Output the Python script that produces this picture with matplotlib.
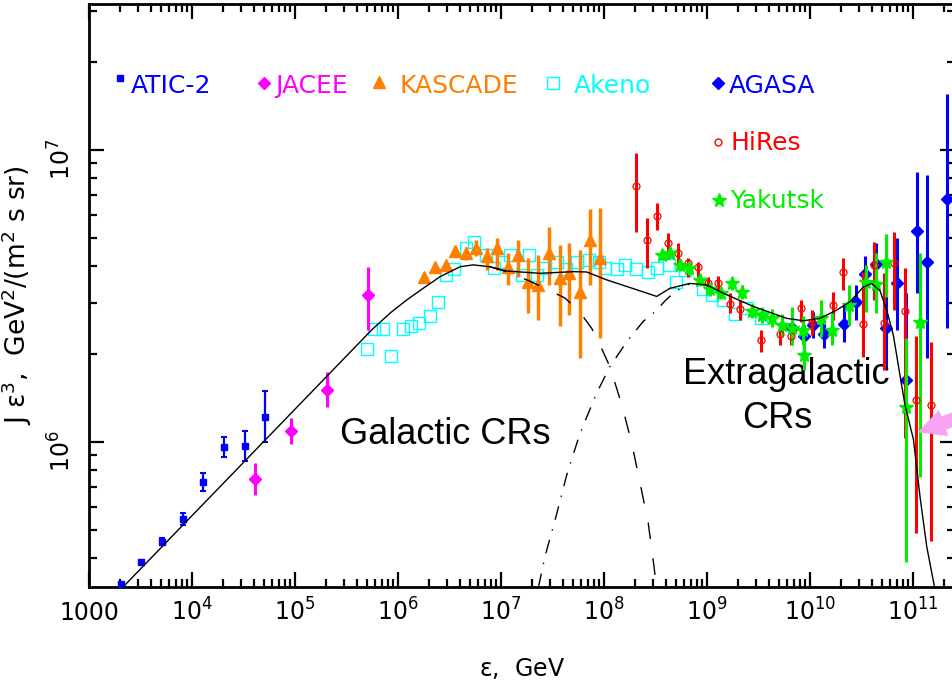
import numpy as np
import matplotlib
matplotlib.use("Agg")
import matplotlib.pyplot as plt
from matplotlib.ticker import FixedLocator, LogLocator, NullFormatter

# ---- data (E in GeV, J*E^3 in GeV^2/(m^2 s sr)) ----
atic_E = [2050, 3200, 5150, 8130, 1.29e4, 2.04e4, 3.24e4, 5.1e4]
atic_J = [3.27e5, 3.89e5, 4.55e5, 5.43e5, 7.3e5, 9.6e5, 9.7e5, 1.22e6]
atic_lo = [3.27e5, 3.83e5, 4.43e5, 5.18e5, 6.80e5, 8.87e5, 8.62e5, 1.00e6]
atic_hi = [3.27e5, 3.95e5, 4.67e5, 5.69e5, 7.84e5, 1.04e6, 1.09e6, 1.49e6]

jacee_E = [4.12e4, 9.2e4, 2.03e5, 5.15e5]
jacee_J = [7.45e5, 1.09e6, 1.51e6, 3.18e6]
jacee_lo = [6.57e5, 9.84e5, 1.32e6, 2.42e6]
jacee_hi = [8.45e5, 1.21e6, 1.73e6, 3.97e6]

kascade_E = [1.8e6, 2.3e6, 2.9e6, 3.6e6, 4.6e6, 5.7e6, 7.3e6, 9.2e6, 1.16e7,
             1.47e7, 1.83e7, 2.3e7, 2.9e7, 3.7e7, 4.6e7, 5.8e7, 7.3e7, 9.2e7]
kascade_J = [3.68e6, 3.98e6, 4.04e6, 4.52e6, 4.43e6, 4.61e6, 4.32e6, 4.61e6, 3.98e6,
             4.36e6, 3.54e6, 3.45e6, 4.43e6, 3.64e6, 3.78e6, 3.25e6, 4.92e6, 4.26e6]
kascade_lo = [3.55e6, 3.85e6, 3.9e6, 4.35e6, 4.20e6, 4.32e6, 3.88e6, 3.88e6, 3.45e6,
              3.67e6, 2.77e6, 2.62e6, 3.45e6, 2.49e6, 2.72e6, 1.94e6, 3.45e6, 2.27e6]
kascade_hi = [3.8e6, 4.1e6, 4.18e6, 4.7e6, 4.66e6, 4.92e6, 4.61e6, 5.0e6, 4.44e6,
              4.92e6, 4.27e6, 4.37e6, 5.45e6, 4.73e6, 4.81e6, 4.55e6, 6.28e6, 6.33e6]

akeno_E = [4.96e5, 5.89e5, 7.2e5, 8.49e5, 1.11e6, 1.33e6, 1.59e6, 2.06e6, 2.46e6, 2.94e6,
           3.5e6, 4.57e6, 5.47e6, 7.2e6, 8.55e6, 1.02e7, 1.21e7, 1.59e7, 1.88e7, 2.26e7,
           2.70e7, 3.52e7, 4.28e7, 5.51e7, 7.15e7, 8.85e7, 1.02e8, 1.33e8, 1.59e8, 2.06e8,
           2.69e8, 3.25e8, 4.25e8, 5.0e8, 6.11e8, 9.2e8, 1.12e9, 1.42e9, 1.88e9, 2.43e9,
           3.34e9]
akeno_J = [2.08e6, 2.43e6, 2.43e6, 1.97e6, 2.43e6, 2.49e6, 2.56e6, 2.70e6, 3.01e6, 3.73e6,
           3.90e6, 4.60e6, 4.85e6, 4.37e6, 3.93e6, 4.14e6, 4.37e6, 3.73e6, 4.37e6, 3.73e6,
           3.93e6, 4.14e6, 3.91e6, 4.14e6, 4.21e6, 4.14e6, 3.93e6, 3.91e6, 4.04e6, 3.91e6,
           3.82e6, 3.93e6, 4.04e6, 3.54e6, 3.88e6, 3.34e6, 3.18e6, 3.07e6, 2.74e6, 2.87e6,
           2.66e6]

agasa_E = [6.64e9, 8.75e9, 1.08e10, 1.38e10, 2.14e10, 2.80e10, 3.42e10, 4.33e10, 5.45e10,
           6.92e10, 8.61e10, 1.09e11, 1.38e11, 2.13e11]
agasa_J = [2.45e6, 2.31e6, 2.52e6, 2.34e6, 2.54e6, 3.02e6, 3.76e6, 4.07e6, 2.45e6,
           3.49e6, 1.63e6, 5.28e6, 4.14e6, 6.78e6]
agasa_lo = [2.24e6, 2.10e6, 2.27e6, 2.10e6, 2.20e6, 2.62e6, 3.24e6, 3.42e6, 1.76e6,
            2.42e6, 7.61e5, 3.23e6, 1.94e6, 2.45e6]
agasa_hi = [2.66e6, 2.52e6, 2.79e6, 2.62e6, 2.94e6, 3.45e6, 4.34e6, 4.81e6, 3.24e6,
            5.0e6, 3.24e6, 8.43e6, 8.21e6, 1.56e7]

hires_E = [2.05e8, 2.60e8, 3.29e8, 4.15e8, 5.20e8, 6.59e8, 8.27e8, 1.03e9, 1.29e9, 1.66e9,
           2.08e9, 3.31e9, 5.15e9, 6.51e9, 8.15e9, 1.04e10, 1.66e10, 2.10e10, 3.29e10,
           4.21e10, 5.21e10, 6.56e10, 8.36e10, 1.06e11, 1.49e11]
hires_J = [7.53e6, 4.92e6, 5.94e6, 4.79e6, 4.44e6, 4.10e6, 3.96e6, 3.49e6, 3.49e6, 2.97e6,
           2.85e6, 2.24e6, 2.34e6, 2.31e6, 2.87e6, 2.58e6, 2.94e6, 3.83e6, 2.53e6,
           4.04e6, 2.55e6, 4.09e6, 2.80e6, 1.39e6, 1.34e6]
hires_lo = [5.25e6, 3.94e6, 5.32e6, 4.22e6, 3.98e6, 3.67e6, 3.68e6, 3.23e6, 3.24e6, 2.76e6,
            2.62e6, 2.04e6, 2.15e6, 2.15e6, 2.58e6, 2.32e6, 2.62e6, 3.32e6, 1.96e6,
            3.06e6, 1.76e6, 2.83e6, 1.03e6, 4.88e5, 4.56e5]
hires_hi = [9.80e6, 5.85e6, 6.58e6, 5.21e6, 4.81e6, 4.27e6, 4.14e6, 3.68e6, 3.70e6, 3.23e6,
            3.06e6, 2.42e6, 2.55e6, 2.45e6, 3.06e6, 2.83e6, 3.26e6, 4.27e6, 3.83e6,
            4.85e6, 3.79e6, 5.25e6, 3.94e6, 2.30e6, 2.20e6]

yak_E = [3.63e8, 4.42e8, 5.43e8, 6.73e8, 8.55e8, 1.07e9, 1.37e9, 1.74e9, 2.20e9, 2.72e9,
         3.44e9, 4.25e9, 5.37e9, 6.71e9, 8.61e9, 8.75e9, 1.27e10, 1.63e10, 2.41e10,
         3.46e10, 4.36e10, 5.51e10, 8.55e10, 1.18e11]
yak_J = [4.37e6, 4.44e6, 4.04e6, 3.93e6, 3.59e6, 3.33e6, 3.24e6, 3.50e6, 3.26e6, 2.81e6,
         2.73e6, 2.66e6, 2.52e6, 2.46e6, 2.42e6, 1.99e6, 2.65e6, 2.42e6, 2.94e6,
         3.53e6, 3.48e6, 4.14e6, 1.32e6, 2.58e6]
yak_lo = [4.20e6, 4.27e6, 3.85e6, 3.73e6, 3.42e6, 3.16e6, 3.09e6, 3.32e6, 3.09e6, 2.66e6,
          2.56e6, 2.48e6, 2.31e6, 2.15e6, 2.15e6, 1.76e6, 2.29e6, 2.15e6, 2.52e6,
          2.79e6, 2.77e6, 3.14e6, 3.89e5, 7.61e5]
yak_hi = [4.55e6, 4.61e6, 4.24e6, 4.14e6, 3.76e6, 3.50e6, 3.39e6, 3.67e6, 3.45e6, 2.96e6,
          2.90e6, 2.86e6, 2.74e6, 2.90e6, 2.70e6, 2.24e6, 3.06e6, 2.77e6, 3.45e6,
          4.04e6, 4.44e6, 5.17e6, 2.27e6, 4.44e6]

# model curves
total_E = [2.15e3, 5.56e5, 8.36e5, 1.21e6, 1.76e6, 2.56e6, 4.00e6, 5.38e6, 7.82e6, 1.13e7,
           2.39e7, 5.00e7, 6.79e7, 1.06e8, 2.08e8, 3.25e8, 4.38e8, 6.84e8, 9.93e8, 1.44e9,
           2.82e9, 5.94e9, 8.61e9, 1.25e10, 1.82e10, 2.44e10, 3.29e10, 3.97e10, 4.79e10,
           5.56e10, 6.45e10, 7.48e10, 8.36e10, 1.01e11, 1.17e11, 1.36e11, 1.64e11]
total_J = [3.19e5, 2.42e6, 2.76e6, 3.06e6, 3.36e6, 3.68e6, 3.98e6, 4.04e6, 3.98e6, 3.85e6,
           3.78e6, 3.83e6, 3.82e6, 3.59e6, 3.32e6, 3.15e6, 3.36e6, 3.49e6, 3.45e6, 3.23e6,
           2.91e6, 2.65e6, 2.60e6, 2.65e6, 2.83e6, 3.02e6, 3.39e6, 3.49e6, 3.29e6,
           2.83e6, 2.32e6, 1.69e6, 1.34e6, 1.02e6, 6.50e5, 4.38e5, 3.11e5]

gal_E = [7.82e6, 1.13e7, 1.78e7, 2.67e7, 4.18e7, 5.71e7, 7.59e7, 9.15e7, 1.14e8, 1.49e8,
         1.86e8, 2.24e8, 2.69e8, 3.06e8, 3.23e8]
gal_J = [3.98e6, 3.83e6, 3.59e6, 3.36e6, 3.11e6, 2.81e6, 2.45e6, 2.15e6, 1.81e6, 1.34e6,
         9.9e5, 7.23e5, 5.27e5, 3.74e5, 3.18e5]

eg_E = [2.31e7, 2.67e7, 3.42e7, 4.35e7, 5.85e7, 8.49e7, 1.14e8, 1.66e8, 2.41e8, 3.13e8,
        3.91e8, 4.89e8, 6.84e8]
eg_J = [3.18e5, 4.04e5, 5.55e5, 7.71e5, 1.07e6, 1.47e6, 1.81e6, 2.20e6, 2.59e6, 2.79e6,
        3.04e6, 3.27e6, 3.49e6]

xticks = [1e3, 1e4, 1e5, 1e6, 1e7, 1e8, 1e9, 1e10, 1e11]
xticklabels = ['1000', '$10^{4}$', '$10^{5}$', '$10^{6}$', '$10^{7}$',
               '$10^{8}$', '$10^{9}$', '$10^{10}$', '$10^{11}$']
yticks = [1e6, 1e7]
yticklabels = ['$10^{6}$', '$10^{7}$']

BLUE = '#0000ff'
MAGENTA = '#ff00ff'
ORANGE = '#ff8000'
CYAN = '#00ffff'
RED = '#ff0000'
GREEN = '#00ee00'


def errs(J, lo, hi):
    J = np.array(J)
    return [J - np.array(lo), np.array(hi) - J]


fig = plt.figure(figsize=(9.53, 6.81), dpi=100)
ax = fig.add_axes([89 / 953, 94 / 681, 866 / 953, 583 / 681])
ax.set_xscale('log')
ax.set_yscale('log')
ax.set_xlim(1e3, 10 ** 11.408)
ax.set_ylim(10 ** 5.503, 10 ** 7.5)

# data
ax.errorbar(akeno_E, akeno_J, fmt='s', ms=8, mfc='none', mec=CYAN, mew=1.0, zorder=2)
ax.errorbar(kascade_E, kascade_J, yerr=errs(kascade_J, kascade_lo, kascade_hi), fmt='^',
            ms=9, color=ORANGE, elinewidth=2.5, capsize=0, zorder=3)
ax.errorbar(atic_E, atic_J, yerr=errs(atic_J, atic_lo, atic_hi), fmt='s', ms=5,
            color=BLUE, elinewidth=1.6, capsize=2, capthick=1.5, zorder=3)
ax.errorbar(jacee_E, jacee_J, yerr=errs(jacee_J, jacee_lo, jacee_hi), fmt='D', ms=6.5,
            color=MAGENTA, elinewidth=2.2, capsize=0, zorder=3)
ax.errorbar(agasa_E, agasa_J, yerr=errs(agasa_J, agasa_lo, agasa_hi), fmt='D', ms=6.5,
            color=BLUE, elinewidth=2.2, capsize=0, zorder=3)
ax.errorbar(hires_E, hires_J, yerr=errs(hires_J, hires_lo, hires_hi), fmt='o', ms=5,
            mfc='none', mec=RED, mew=0.9, color=RED, elinewidth=2.2, capsize=0, zorder=4)
ax.errorbar(yak_E, yak_J, yerr=errs(yak_J, yak_lo, yak_hi), fmt='*', ms=10,
            color=GREEN, elinewidth=2.2, capsize=0, zorder=4)

# model curves
ax.plot(total_E, total_J, color='black', lw=1.0, zorder=6)
ax.plot(gal_E, gal_J, color='black', lw=1.0, dashes=(12, 14), zorder=6)
ax.plot(eg_E, eg_J, color='black', lw=1.0, dashes=(10, 7, 1, 7), zorder=6)

# labels inside the plot
ax.text(340 / 953, 1 - 435 / 681, 'Galactic CRs', transform=fig.transFigure,
        fontsize=26, family='Liberation Sans', ha='left', va='center')
ax.text(786 / 953, 1 - 374 / 681, 'Extragalactic', transform=fig.transFigure,
        fontsize=26, family='Liberation Sans', ha='center', va='center')
ax.text(777 / 953, 1 - 419 / 681, 'CRs', transform=fig.transFigure,
        fontsize=26, family='Liberation Sans', ha='center', va='center')

# pink arrow
ax.annotate('', xy=(1.045e11, 1.07e6), xytext=(1.05, 0.315), textcoords='axes fraction',
            arrowprops=dict(arrowstyle='simple,head_length=1.0,head_width=1.0,tail_width=0.5',
                            color='#f7a3f2', lw=0, mutation_scale=20),
            annotation_clip=False, zorder=7)

# legend drawn as coloured labels
legend = [
    ('ATIC-2', BLUE, 's', 5, True, 0.0358, 0.873, 0.0485, 0.8468),
    ('JACEE', MAGENTA, 'D', 6.5, True, 0.2024, 0.864, 0.2148, 0.8468),
    ('KASCADE', ORANGE, '^', 8.5, True, 0.3349, 0.8667, 0.3591, 0.8468),
    ('Akeno', CYAN, 's', 8, False, 0.5361, 0.865, 0.560, 0.8468),
    ('AGASA', BLUE, 'D', 6.5, True, 0.7267, 0.864, 0.739, 0.8468),
    ('HiRes', RED, 'o', 5, False, 0.7267, 0.7638, 0.7402, 0.7496),
    ('Yakutsk', GREEN, '*', 10, True, 0.7279, 0.6638, 0.7402, 0.6496),
]
for name, col, mk, ms, filled, mx, my, tx, ty in legend:
    ax.plot([mx], [my], marker=mk, ms=ms, color=col, mfc=col if filled else 'none',
            mec=col, mew=1.0, ls='none', transform=ax.transAxes, clip_on=False)
    ax.text(tx, ty, name, color=col, fontsize=18, transform=ax.transAxes,
            ha='left', va='baseline')

# axes styling
for sp in ax.spines.values():
    sp.set_linewidth(2.0)
ax.xaxis.set_major_locator(FixedLocator(xticks))
ax.xaxis.set_minor_locator(LogLocator(base=10, subs=np.arange(2, 10), numticks=50))
ax.xaxis.set_minor_formatter(NullFormatter())
ax.set_xticks(xticks)
ax.set_xticklabels(xticklabels)
ax.yaxis.set_major_locator(FixedLocator(yticks))
ax.yaxis.set_minor_locator(LogLocator(base=10, subs=np.arange(2, 10), numticks=50))
ax.yaxis.set_minor_formatter(NullFormatter())
ax.set_yticks(yticks)
ax.set_yticklabels(yticklabels)
ax.tick_params(which='both', direction='in', top=True, right=True, width=1.6)
ax.tick_params(which='major', length=11)
ax.tick_params(which='minor', length=6)
ax.tick_params(axis='x', labelsize=17, pad=24)
ax.tick_params(axis='y', labelsize=17, pad=10, labelrotation=90)
for lab in ax.get_xticklabels():
    lab.set_verticalalignment('baseline')

ax.set_xlabel(r'$\mathrm{\epsilon}$,  GeV', fontsize=17, va='top')
ax.xaxis.set_label_coords(0.5, -0.118)
ax.set_ylabel(r'J $\mathrm{\epsilon}^3$,  GeV$^2$/(m$^2$ s sr)', fontsize=19)
ax.yaxis.set_label_coords(-0.064, 0.5)

fig.savefig('out.png', dpi=100)
